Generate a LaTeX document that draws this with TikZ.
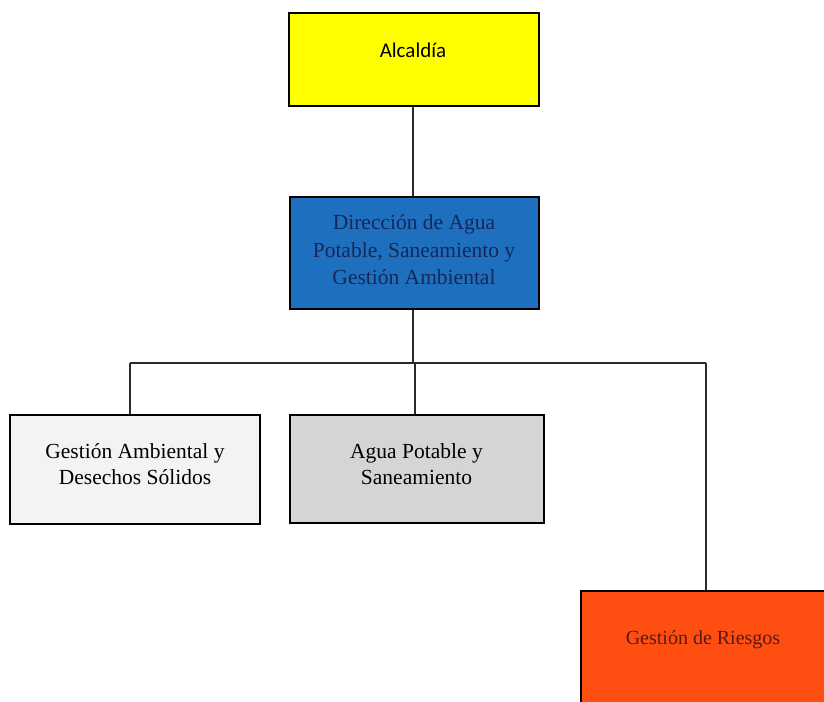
\documentclass[tikz,border=0pt]{standalone}
\usepackage{fontspec}
\setmainfont{Liberation Serif}
\newfontfamily\carlito{Carlito}
\definecolor{alcyellow}{HTML}{FFFF00}
\definecolor{dirblue}{HTML}{1F6FBF}
\definecolor{dirtext}{HTML}{14285A}
\definecolor{gaFill}{HTML}{F3F2F5}
\definecolor{apFill}{HTML}{D5D5D8}
\definecolor{riskFill}{HTML}{FF4E12}
\definecolor{riskText}{HTML}{5A1A12}
\definecolor{linkgray}{HTML}{2A2A2A}
\begin{document}
\begin{tikzpicture}[x=1pt,y=-1pt,
  unitbox/.style={draw=black,line width=2.9pt,inner sep=0pt,rectangle},
  link/.style={draw=linkgray,line width=1.4pt},
  serifText/.style={font=\fontsize{21.5}{26}\selectfont,align=center,inner sep=0pt},
]
\clip (0,0) rectangle (824,701);

% junction points on the distribution bus
\coordinate (bus) at (413,363);
\coordinate (busL) at (130,363);
\coordinate (busM) at (415,363);
\coordinate (busR) at (706,363);

% boxes
\node[unitbox,fill=alcyellow,minimum width=250,minimum height=93] (alc) at (414,59.5) {};
\node[unitbox,fill=dirblue,minimum width=249,minimum height=112] (dir) at (414.5,253) {};
\node[unitbox,fill=gaFill,minimum width=250,minimum height=109] (ga) at (135,469.5) {};
\node[unitbox,fill=apFill,minimum width=254,minimum height=108] (ap) at (417,469) {};
\node[unitbox,fill=riskFill,minimum width=250,minimum height=120] (gr) at (706,651) {};

% connectors
\draw[link] (alc.south -| bus) -- (dir.north -| bus);
\draw[link] (dir.south -| bus) -- (bus);
\draw[link] (busL) -- (busR);
\draw[link] (busL) -- (busL |- ga.north);
\draw[link] (busM) -- (busM |- ap.north);
\draw[link] (busR) -- (busR |- gr.north);

% labels
\node[inner sep=0pt,font=\carlito\fontsize{21}{25}\selectfont] (alcT) at (413,50) {Alcaldía};
\node[serifText,text=dirtext,font=\fontsize{21.5}{27.5}\selectfont] (dirT) at (414,250)
  {Dirección de Agua\\Potable, Saneamiento y\\Gestión Ambiental};
\node[serifText] (gaT) at (135,464) {Gestión Ambiental y\\Desechos Sólidos};
\node[serifText] (apT) at (416.5,464) {Agua Potable y\\Saneamiento};
\node[serifText,text=riskText,font=\fontsize{20}{24}\selectfont] (grT) at (703,640) {Gestión de Riesgos};
\end{tikzpicture}
\end{document}
